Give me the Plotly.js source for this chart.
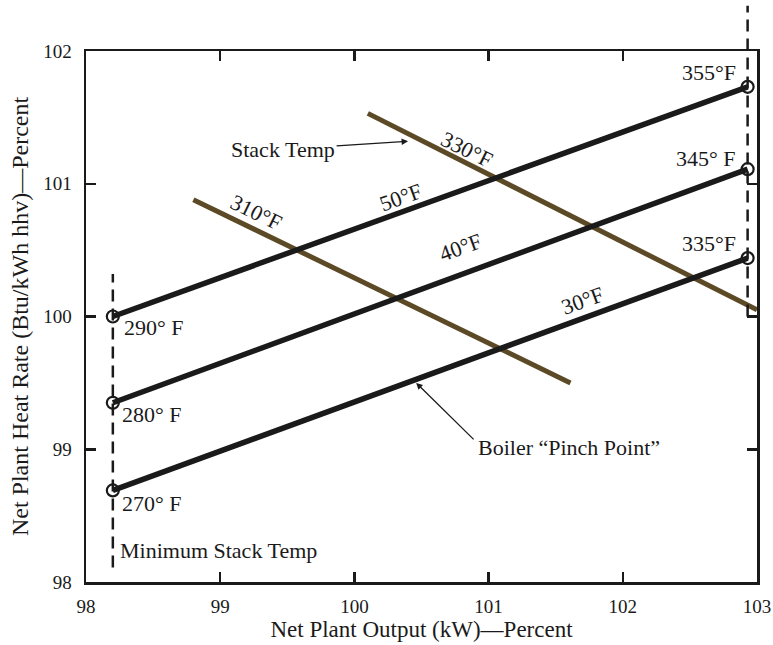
<!DOCTYPE html>
<html>
<head>
<meta charset="utf-8">
<script src="https://cdn.plot.ly/plotly-3.0.1.min.js"></script>
<style>
  html, body { margin: 0; padding: 0; background: #fff; }
  #chart { width: 773px; height: 645px; }
</style>
</head>
<body>
<div id="chart"></div>
<script>
// ---- Data ----
var lineX = [98.2, 102.93];            // Net plant output at min / max stack temp
var rise50Y = [100.0, 101.73];         // 50°F line: 290°F -> 355°F
var rise40Y = [99.35, 101.11];         // 40°F line: 280°F -> 345°F
var rise30Y = [98.69, 100.44];         // 30°F line: 270°F -> 335°F
var startLabels = ["290° F", "280° F", "270° F"];
var endLabels = ["355°F", "345° F", "335°F"];
var riseLabels = ["50°F", "40°F", "30°F"];

var st310X = [98.8, 101.61];
var st310Y = [100.88, 99.5];
var st330X = [100.1, 103.0];
var st330Y = [101.53, 100.05];

var minStackX = [98.2, 98.2];
var minStackY = [98.11, 100.32];
var maxStackX = 102.93;
var maxStackY = [100.0, 102.34];

var xTicks = [98, 99, 100, 101, 102, 103];
var yTicks = [98, 99, 100, 101, 102];
var xRange = [98, 103];
var yRange = [98, 102];

// ---- Styles ----
var FONT = "Liberation Serif, Times New Roman, serif";
var INK = "#1a1a1a";
var BROWN = "#5c4a26";

function riseTrace(y) {
  return {
    x: lineX, y: y, type: "scatter", mode: "lines+markers",
    line: { color: INK, width: 5.5 },
    marker: { symbol: "circle-open", size: 12, color: INK, line: { width: 2.2, color: INK } },
    cliponaxis: false, hoverinfo: "skip", showlegend: false
  };
}

var traces = [
  { x: st310X, y: st310Y, type: "scatter", mode: "lines",
    line: { color: BROWN, width: 5 }, hoverinfo: "skip", showlegend: false },
  { x: st330X, y: st330Y, type: "scatter", mode: "lines",
    line: { color: BROWN, width: 5 }, hoverinfo: "skip", showlegend: false },
  { x: minStackX, y: minStackY, type: "scatter", mode: "lines",
    line: { color: INK, width: 2.5, dash: "12px,7px" }, hoverinfo: "skip", showlegend: false },
  riseTrace(rise50Y),
  riseTrace(rise40Y),
  riseTrace(rise30Y)
];

function ann(text, x, y, opts) {
  var a = { text: text, x: x, y: y, xref: "x", yref: "y", showarrow: false,
            font: { family: FONT, size: 22, color: INK } };
  for (var k in opts) a[k] = opts[k];
  return a;
}

var annotations = [
  ann("Maximum Stack Temp", 102.86, 102.21, { xanchor: "right" }),
  ann("Minimum Stack Temp", 98.24, 98.24, { xanchor: "left" }),
  ann(startLabels[0], 98.27, 99.92, { xanchor: "left" }),
  ann(startLabels[1], 98.25, 99.26, { xanchor: "left" }),
  ann(startLabels[2], 98.25, 98.59, { xanchor: "left" }),
  ann(endLabels[0], 102.86, 101.84, { xanchor: "right" }),
  ann(endLabels[1], 102.86, 101.19, { xanchor: "right" }),
  ann(endLabels[2], 102.86, 100.55, { xanchor: "right" }),
  ann(riseLabels[0], 100.34, 100.90, { textangle: -20 }),
  ann(riseLabels[1], 100.79, 100.52, { textangle: -20 }),
  ann(riseLabels[2], 101.70, 100.12, { textangle: -20 }),
  ann("310°F", 99.27, 100.78, { textangle: 26 }),
  ann("330°F", 100.84, 101.26, { textangle: 26 }),
  ann("Stack Temp", 100.4, 101.32, { showarrow: true, ax: -125, ay: 8,
      arrowhead: 2, arrowsize: 1, arrowwidth: 1.3, arrowcolor: INK }),
  ann("Boiler “Pinch Point”", 101.6, 99.01, {}),
  ann("", 100.46, 99.5, { showarrow: true, ax: 59, ay: 58,
      arrowhead: 2, arrowsize: 1, arrowwidth: 1.3, arrowcolor: INK })
];

var yFrac = function (v) { return (v - yRange[0]) / (yRange[1] - yRange[0]); };

var layout = {
  width: 773, height: 645,
  margin: { l: 86, r: 16, t: 51, b: 63 },
  paper_bgcolor: "#ffffff", plot_bgcolor: "#ffffff",
  font: { family: FONT, color: INK, size: 18 },
  showlegend: false,
  xaxis: {
    range: xRange, tickvals: xTicks, ticktext: xTicks.map(String),
    ticks: "inside", ticklen: 10, tickwidth: 2.5, tickcolor: INK,
    showline: true, linewidth: 2.5, linecolor: INK, mirror: "ticks",
    showgrid: false, zeroline: false, ticklabelstandoff: 6,
    ticklabeloverflow: "allow",
    tickfont: { family: FONT, size: 19, color: INK },
    title: { text: "Net Plant Output (kW)—Percent", standoff: 4,
             font: { family: FONT, size: 23, color: INK } }
  },
  yaxis: {
    range: yRange, tickvals: yTicks, ticktext: yTicks.map(String),
    ticks: "inside", ticklen: 10, tickwidth: 2.5, tickcolor: INK,
    showline: true, linewidth: 2.5, linecolor: INK, mirror: "ticks",
    showgrid: false, zeroline: false, ticklabelstandoff: 8,
    ticklabeloverflow: "allow",
    tickfont: { family: FONT, size: 19, color: INK },
    title: { text: "Net Plant Heat Rate (Btu/kWh hhv)—Percent", standoff: 8,
             font: { family: FONT, size: 24, color: INK } }
  },
  shapes: [
    { type: "line", xref: "x", yref: "paper",
      x0: maxStackX, x1: maxStackX, y0: yFrac(maxStackY[0]), y1: yFrac(maxStackY[1]),
      line: { color: INK, width: 2.5, dash: "12px,7px" } }
  ],
  annotations: annotations
};

Plotly.newPlot("chart", traces, layout, { staticPlot: true, displayModeBar: false });
</script>
</body>
</html>
